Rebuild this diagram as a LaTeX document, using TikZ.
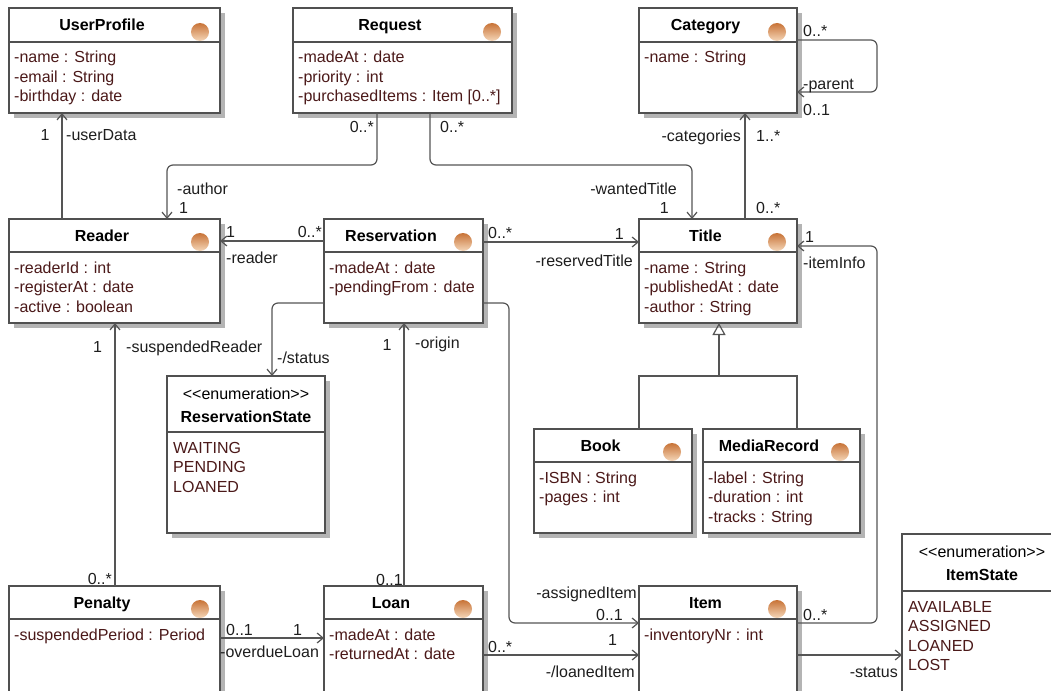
\documentclass[tikz,border=0pt]{standalone}
\usepackage{fontspec}
\setmainfont{Liberation Sans}
\usetikzlibrary{arrows.meta,calc}
\definecolor{boxc}{RGB}{80,80,80}
\definecolor{linec}{RGB}{85,85,85}
\definecolor{shadowc}{RGB}{180,180,180}
\definecolor{attrc}{RGB}{75,25,25}
\definecolor{lblc}{RGB}{30,30,30}
\definecolor{ballA}{RGB}{200,115,55}
\definecolor{ballB}{RGB}{245,215,185}
\tikzset{
 clsbox/.style={draw=boxc, fill=white, line width=1.2pt, inner sep=0pt, outer sep=0pt, rectangle},
 sepline/.style={draw=boxc, line width=1.2pt},
 clsname/.style={font=\fontsize{16}{19.5}\selectfont\bfseries, inner sep=0pt, text=black},
 attrtext/.style={font=\fontsize{16}{19.5}\selectfont, inner sep=0pt, text=attrc},
 lbl/.style={font=\fontsize{16}{19.5}\selectfont, inner sep=0pt, text=lblc},
 assoc/.style={draw=linec, line width=1.2pt, rounded corners=6pt, -{Straight Barb[length=6pt,width=10pt]}},
 gline/.style={draw=linec, line width=1.2pt},
 gen/.style={draw=linec, line width=1.2pt, -{Triangle[open, length=12pt, width=13pt]}},
}
\newcommand\umlclass[8]{%
  \fill[shadowc] (#2+5,#3+5) rectangle ++(#4,#5);
  \node[clsbox, minimum width=#4pt, minimum height=#5pt, anchor=north west] (#1) at (#2,#3) {};
  \shade[top color=ballA, bottom color=ballB] (#2+#4-20,#3+#6-10) circle[radius=9pt];
  \draw[sepline] (#2,#3+#6) -- (#2+#4,#3+#6);
  \node[clsname, anchor=base] (#1-name) at (#2+#4/2-12.5,#3+#6/2+5.5) {#7};
  \node[attrtext, anchor=base west] (#1-attr) at (#2+5,#3+#6+21) {\begin{tabular}[t]{@{}l@{}}#8\end{tabular}};
}
\newcommand\umlenum[8]{%
  \fill[shadowc] (#2+5,#3+5) rectangle ++(#4,#5);
  \node[clsbox, minimum width=#4pt, minimum height=#5pt, anchor=north west] (#1) at (#2,#3) {};
  \draw[sepline] (#2,#3+#6) -- (#2+#4,#3+#6);
  \node[lbl, text=black, anchor=base] (#1-st) at (#2+#4/2,#3+23) {\textless\kern0pt\textless\kern0pt enumeration\textgreater\kern0pt\textgreater};
  \node[clsname, anchor=base] (#1-name) at (#2+#4/2,#3+46) {#7};
  \node[attrtext, anchor=base west] (#1-attr) at (#2+6,#3+#6+21) {\begin{tabular}[t]{@{}l@{}}#8\end{tabular}};
}
\begin{document}
\begin{tikzpicture}[x=1pt,y=-1pt]
\path[use as bounding box, clip] (0,0) rectangle (1051,690);
\fill[white] (0,0) rectangle (1051,690);

% classes
\umlclass{userprofile}{9}{8}{211}{105}{34}{UserProfile}{-name : String\\-email : String\\-birthday : date}
\umlclass{request}{293}{8}{219}{105}{34}{Request}{-madeAt : date\\-priority : int\\-purchasedItems : Item [0..*]}
\umlclass{category}{639}{8}{158}{105}{34}{Category}{-name : String}
\umlclass{reader}{9}{219}{211}{104}{33}{Reader}{-readerId : int\\-registerAt : date\\-active : boolean}
\umlclass{reservation}{324}{219}{159}{104}{33}{Reservation}{-madeAt : date\\-pendingFrom : date}
\umlclass{title}{639}{219}{158}{104}{33}{Title}{-name : String\\-publishedAt : date\\-author : String}
\umlclass{book}{534}{429}{158}{104}{33}{Book}{-ISBN : String\\-pages : int}
\umlclass{mediarecord}{703}{429}{157}{104}{33}{MediaRecord}{-label : String\\-duration : int\\-tracks : String}
\umlclass{penalty}{9}{586}{211}{120}{33}{Penalty}{-suspendedPeriod : Period}
\umlclass{loan}{324}{586}{159}{120}{33}{Loan}{-madeAt : date\\-returnedAt : date}
\umlclass{item}{639}{586}{158}{120}{33}{Item}{-inventoryNr : int}
\umlenum{resstate}{167}{376}{158}{157}{56}{ReservationState}{WAITING\\PENDING\\LOANED}
\umlenum{itemstate}{902}{534}{160}{180}{57}{ItemState}{AVAILABLE\\ASSIGNED\\LOANED\\LOST}

% associations
\draw[assoc] ($(reader.north west)+(53,0)$) -- ($(userprofile.south west)+(53,0)$);
\draw[assoc] ($(request.south west)+(84,0)$) -- ++(0,52) -| ($(reader.north west)+(158,0)$);
\draw[assoc] ($(request.south west)+(137,0)$) -- ++(0,52) -| ($(title.north west)+(53,0)$);
\draw[assoc] ($(title.north west)+(106,0)$) -- ($(category.south west)+(106,0)$);
\draw[assoc] ($(category.north east)+(0,32)$) -- ++(80,0) |- ($(category.north east)+(0,84)$);
\draw[assoc] ($(reservation.north west)+(0,22)$) -- ($(reader.north east)+(0,22)$);
\draw[assoc] ($(reservation.north east)+(0,23)$) -- ($(title.north west)+(0,23)$);
\draw[assoc] ($(reservation.north west)+(0,84)$) -| ($(resstate.north west)+(105,0)$);
\draw[assoc] ($(penalty.north west)+(106,0)$) -- ($(reader.south west)+(106,0)$);
\draw[assoc] ($(loan.north west)+(80,0)$) -- ($(reservation.south west)+(80,0)$);
\draw[assoc] ($(reservation.north east)+(0,84)$) -- ++(26,0) |- ($(item.north west)+(0,37)$);
\draw[assoc] ($(penalty.north east)+(0,52)$) -- ($(loan.north west)+(0,52)$);
\draw[assoc] ($(loan.north east)+(0,69)$) -- ($(item.north west)+(0,69)$);
\draw[assoc] ($(item.north east)+(0,37)$) -- ++(80,0) |- ($(title.north east)+(0,27)$);
\draw[assoc] ($(item.north east)+(0,69)$) -- ($(itemstate.north west)+(0,121)$);

% generalization
\coordinate (genj) at ($(title.south west)+(80,53)$);
\draw[gline] ($(book.north west)+(105,0)$) |- ($(mediarecord.north west)+(94,-53)$) -- ($(mediarecord.north west)+(94,0)$);
\draw[gen] (genj) -- ($(title.south west)+(80,0)$);

% labels
\node[lbl, anchor=base] (l1) at (45,140.5) {1};
\node[lbl, anchor=base west] (l2) at (66,140) {-userData};
\node[lbl, anchor=base east] (l3) at (374,132) {0..*};
\node[lbl, anchor=base west] (l4) at (177,194) {-author};
\node[lbl, anchor=base west] (l5) at (179,213) {1};
\node[lbl, anchor=base west] (l6) at (440,132) {0..*};
\node[lbl, anchor=base east] (l7) at (677,194) {-wantedTitle};
\node[lbl, anchor=base east] (l8) at (669,213) {1};
\node[lbl, anchor=base east] (l9) at (741,141) {-categories};
\node[lbl, anchor=base west] (l10) at (756,141) {1..*};
\node[lbl, anchor=base west] (l11) at (756,213) {0..*};
\node[lbl, anchor=base west] (l12) at (803,37) {0..*};
\node[lbl, anchor=base west] (l13) at (803,90) {-parent};
\node[lbl, anchor=base west] (l14) at (803,115) {0..1};
\node[lbl, anchor=base west] (l15) at (226,237) {1};
\node[lbl, anchor=base east] (l16) at (322,237) {0..*};
\node[lbl, anchor=base west] (l17) at (226,263) {-reader};
\node[lbl, anchor=base west] (l18) at (488,238) {0..*};
\node[lbl, anchor=base east] (l19) at (624,239) {1};
\node[lbl, anchor=base east] (l20) at (633,266) {-reservedTitle};
\node[lbl, anchor=base west] (l21) at (277,363) {-/status};
\node[lbl, anchor=base west] (l22) at (126,352) {-suspendedReader};
\node[lbl, anchor=base] (l23) at (97.5,352) {1};
\node[lbl, anchor=base] (l24) at (387,350) {1};
\node[lbl, anchor=base west] (l25) at (415,348) {-origin};
\node[lbl, anchor=base east] (l26) at (112,584) {0..*};
\node[lbl, anchor=base east] (l27) at (403,585) {0..1};
\node[lbl, anchor=base east] (l28) at (637,598) {-assignedItem};
\node[lbl, anchor=base east] (l29) at (623,620) {0..1};
\node[lbl, anchor=base] (l30) at (612.5,645) {1};
\node[lbl, anchor=base west] (l31) at (488,652) {0..*};
\node[lbl, anchor=base east] (l32) at (635,677) {-/loanedItem};
\node[lbl, anchor=base west] (l33) at (226,635) {0..1};
\node[lbl, anchor=base] (l34) at (297.5,635) {1};
\node[lbl, anchor=base west] (l35) at (220,657) {-overdueLoan};
\node[lbl, anchor=base west] (l36) at (803,620) {0..*};
\node[lbl, anchor=base west] (l37) at (805,242) {1};
\node[lbl, anchor=base west] (l38) at (803,268) {-itemInfo};
\node[lbl, anchor=base east] (l39) at (898,677) {-status};
\end{tikzpicture}
\end{document}
